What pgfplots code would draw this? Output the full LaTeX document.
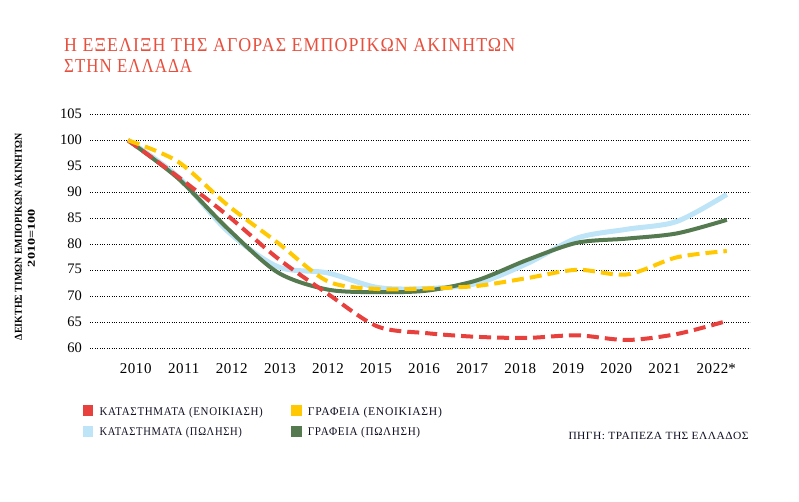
\documentclass[border=0pt]{standalone}
\usepackage{fontspec}
\setmainfont{Liberation Serif}
\usepackage{graphicx}
\usepackage{pgfplots}
\pgfplotsset{compat=1.18}

\definecolor{shoprent}{RGB}{232,64,60}
\definecolor{officerent}{RGB}{255,200,0}
\definecolor{shopsale}{RGB}{190,228,248}
\definecolor{officesale}{RGB}{85,122,80}
\definecolor{titlered}{RGB}{232,78,60}
\definecolor{legtext}{RGB}{15,15,35}

% text squeezed to a given width and cap height
\newcommand\fit[3]{\resizebox{#1}{#2}{\fontsize{20}{22}\selectfont\addfontfeature{LetterSpace=6}#3}}

\begin{document}
\begin{tikzpicture}
% page frame, 1px = 1pt, axis box origin at pixel (90,348.3)
\path[use as bounding box] (-90pt,-152.7pt) rectangle (709pt,348.3pt);

\begin{axis}[
    at={(0pt,0pt)}, anchor=south west,
    scale only axis,
    width=660pt, height=234pt,
    xmin=-0.762, xmax=12.465,
    ymin=60, ymax=105,
    axis line style={draw=none},
    major tick length=0pt,
    ytick={60,65,...,105},
    xtick={0.154,1.117,2.080,3.044,4.007,4.970,5.933,6.897,7.860,8.823,9.786,10.749,11.713},
    xticklabels={2010,2011,2012,2013,2012,2015,2016,2017,2018,2019,2020,2021,2022\rlap{*}},
    ymajorgrids,
    grid style={black, line width=0.8pt, dash pattern=on 0.8pt off 1.6pt},
    yticklabel style={font=\fontsize{14.5}{16}\selectfont, anchor=east, inner sep=0pt, xshift=-8pt, yshift=1pt},
    xticklabel style={font=\fontsize{15}{17}\selectfont\addfontfeature{LetterSpace=4}, anchor=base, inner sep=0pt, yshift=-25pt},
    /pgf/number format/assume math mode=true,
    clip=false,
]
% ΚΑΤΑΣΤΗΜΑΤΑ (ΠΩΛΗΣΗ)
\addplot[shopsale, line width=5pt, smooth, tension=0.5] coordinates {
(0,100) (1,93.0) (2,82.5) (3,75.7) (4,74.5) (5,71.7) (6,71.5) (7,72.5) (8,76.3) (9,81.2) (10,82.9) (11,84.4) (12,89.6)};
% ΓΡΑΦΕΙΑ (ΠΩΛΗΣΗ)
\addplot[officesale, line width=4pt, smooth, tension=0.5] coordinates {
(0,100) (1,92.7) (2,83.0) (3,74.6) (4,71.3) (5,70.8) (6,71.1) (7,73.1) (8,77.0) (9,80.3) (10,81.1) (11,82.1) (12,84.7)};
% ΚΑΤΑΣΤΗΜΑΤΑ (ΕΝΟΙΚΙΑΣΗ)
\addplot[shoprent, line width=4pt, smooth, tension=0.5, dash pattern=on 12pt off 6pt] coordinates {
(0,100) (1,93.0) (2,85.5) (3,77.3) (4,70.5) (5,64.2) (6,62.9) (7,62.2) (8,62.0) (9,62.5) (10,61.6) (11,62.75) (12,65.25)};
% ΓΡΑΦΕΙΑ (ΕΝΟΙΚΙΑΣΗ)
\addplot[officerent, line width=4pt, smooth, tension=0.5, dash pattern=on 12pt off 6pt] coordinates {
(0,100) (1,95.9) (2,87.5) (3,80.3) (4,72.9) (5,71.4) (6,71.5) (7,72.0) (8,73.5) (9,75.1) (10,74.2) (11,77.5) (12,78.7)};
\end{axis}

% title
\node[anchor=base west, inner sep=0pt, text=titlered] at (-26pt,296.3pt) {\fit{451pt}{13pt}{Η ΕΞΕΛΙΞΗ ΤΗΣ ΑΓΟΡΑΣ ΕΜΠΟΡΙΚΩΝ ΑΚΙΝΗΤΩΝ}};
\node[anchor=base west, inner sep=0pt, text=titlered] at (-26pt,275.3pt) {\fit{128pt}{13pt}{ΣΤΗΝ ΕΛΛΑΔΑ}};

% y axis label
\node[rotate=90, anchor=base, inner sep=0pt, font=\bfseries\fontsize{10.5}{12}\selectfont] at (-68pt,111.8pt) {\resizebox{207pt}{7pt}{ΔΕΙΚΤΗΣ ΤΙΜΩΝ ΕΜΠΟΡΙΚΩΝ ΑΚΙΝΗΤΩΝ}};
\node[rotate=90, anchor=base, inner sep=0pt, font=\bfseries\fontsize{10.5}{12}\selectfont] at (-55pt,110.3pt) {\resizebox{58pt}{7pt}{2010=100}};

% legend
\fill[shoprent]   (-6.7pt,-56.7pt) rectangle (3.3pt,-67.7pt);
\fill[shopsale]   (-6.7pt,-77.4pt) rectangle (3.3pt,-88.4pt);
\fill[officerent] (201pt,-56.7pt) rectangle (211.7pt,-67.7pt);
\fill[officesale] (201pt,-77.4pt) rectangle (211.7pt,-88.4pt);
\begin{scope}[every node/.style={anchor=base west, inner sep=0pt, text=legtext}]
\node at (9.3pt,-66.7pt) {\fit{163.4pt}{8.2pt}{ΚΑΤΑΣΤΗΜΑΤΑ (ΕΝΟΙΚΙΑΣΗ)}};
\node at (9.3pt,-87.2pt) {\fit{142.4pt}{8.2pt}{ΚΑΤΑΣΤΗΜΑΤΑ (ΠΩΛΗΣΗ)}};
\node at (217.7pt,-66.7pt) {\fit{134pt}{8.2pt}{ΓΡΑΦΕΙΑ (ΕΝΟΙΚΙΑΣΗ)}};
\node at (217.7pt,-87.2pt) {\fit{112.3pt}{8.2pt}{ΓΡΑΦΕΙΑ (ΠΩΛΗΣΗ)}};
\end{scope}

% source
\node[anchor=base west, inner sep=0pt, text=legtext] at (478.3pt,-90.7pt) {\resizebox{180pt}{7.3pt}{\fontsize{11}{13}\selectfont\addfontfeature{LetterSpace=4}ΠΗΓΗ: ΤΡΑΠΕΖΑ ΤΗΣ ΕΛΛΑΔΟΣ}};
\end{tikzpicture}
\end{document}
